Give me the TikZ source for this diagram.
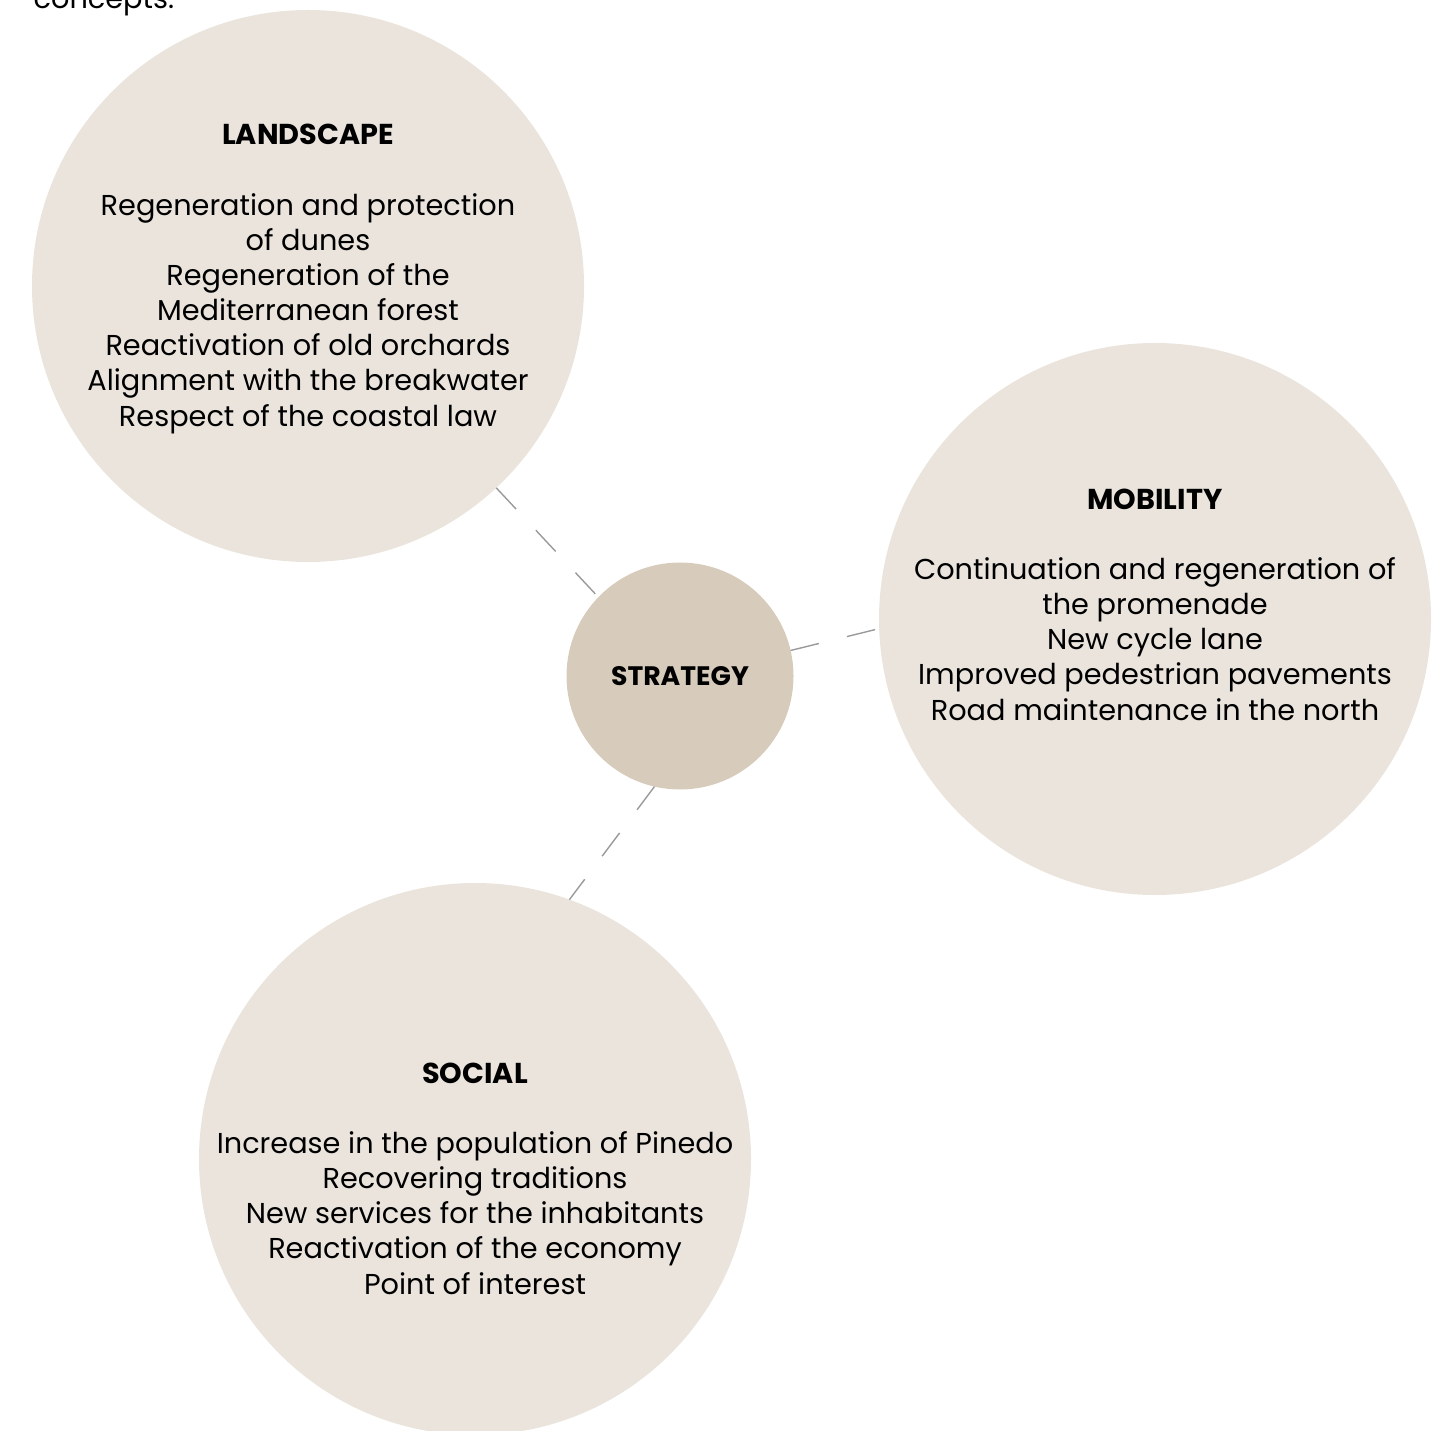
\documentclass[tikz,border=0pt]{standalone}
\usepackage{fontspec}
\setmainfont{Poppins}
\usepackage{tikz}
\usetikzlibrary{positioning,calc}
\usepackage{xcolor}

\definecolor{sand}{HTML}{EAE4DD}
\definecolor{sanddark}{HTML}{D7CCBC}
\definecolor{linkgray}{HTML}{9A9A9A}

\begin{document}
\begin{tikzpicture}[
  topic/.style={circle,fill=sand,minimum size=5.52cm,inner sep=0pt,outer sep=0pt},
  hub/.style={circle,fill=sanddark,minimum size=2.27cm,inner sep=0pt,outer sep=0pt},
  body/.style={align=center,font=\fontsize{8.18}{10}\selectfont,inner sep=0pt},
  link/.style={draw=linkgray,line width=0.4pt,dash pattern=on 0.29cm off 0.29cm}
]
\useasboundingbox (0,0) rectangle (14.36,-14.30);

% tail of the sentence above
\node[anchor=base west,font=\fontsize{8.18}{10}\selectfont,inner sep=0pt] (lead) at (0.33,-0.09) {concepts.};

% circles
\node[topic] (landscape) at (3.08,-2.86) {};
\node[topic] (mobility) at (11.55,-6.19) {};
\node[topic] (social) at (4.75,-11.59) {};
\node[hub] (strategy) at (6.80,-6.76) {};

% dashed links
\draw[link] (landscape.-47) -- (strategy.136);
\draw[link] (strategy.13) -- (mobility.182);
\draw[link] (strategy.-103) -- (social.70);

% texts
\node[body] (landscape-txt) at (3.08,-2.79) {\textbf{LANDSCAPE}\\[10pt]
  Regeneration and protection\\ of dunes\\ Regeneration of the\\ Mediterranean forest\\
  Reactivation of old orchards\\ Alignment with the breakwater\\ Respect of the coastal law};
\node[body] (mobility-txt) at (11.55,-6.045) {\textbf{MOBILITY}\\[10pt]
  Continuation and regeneration of\\ the promenade\\ New cycle lane\\
  Improved pedestrian pavements\\ Road maintenance in the north};
\node[body] (social-txt) at (4.75,-11.785) {\textbf{SOCIAL}\\[10pt]
  Increase in the population of Pinedo\\ Recovering traditions\\
  New services for the inhabitants\\ Reactivation of the economy\\ Point of interest};
\node[body,font=\fontsize{7.6}{10}\selectfont] (strategy-txt) at (strategy) {\textbf{STRATEGY}};
\end{tikzpicture}
\end{document}
